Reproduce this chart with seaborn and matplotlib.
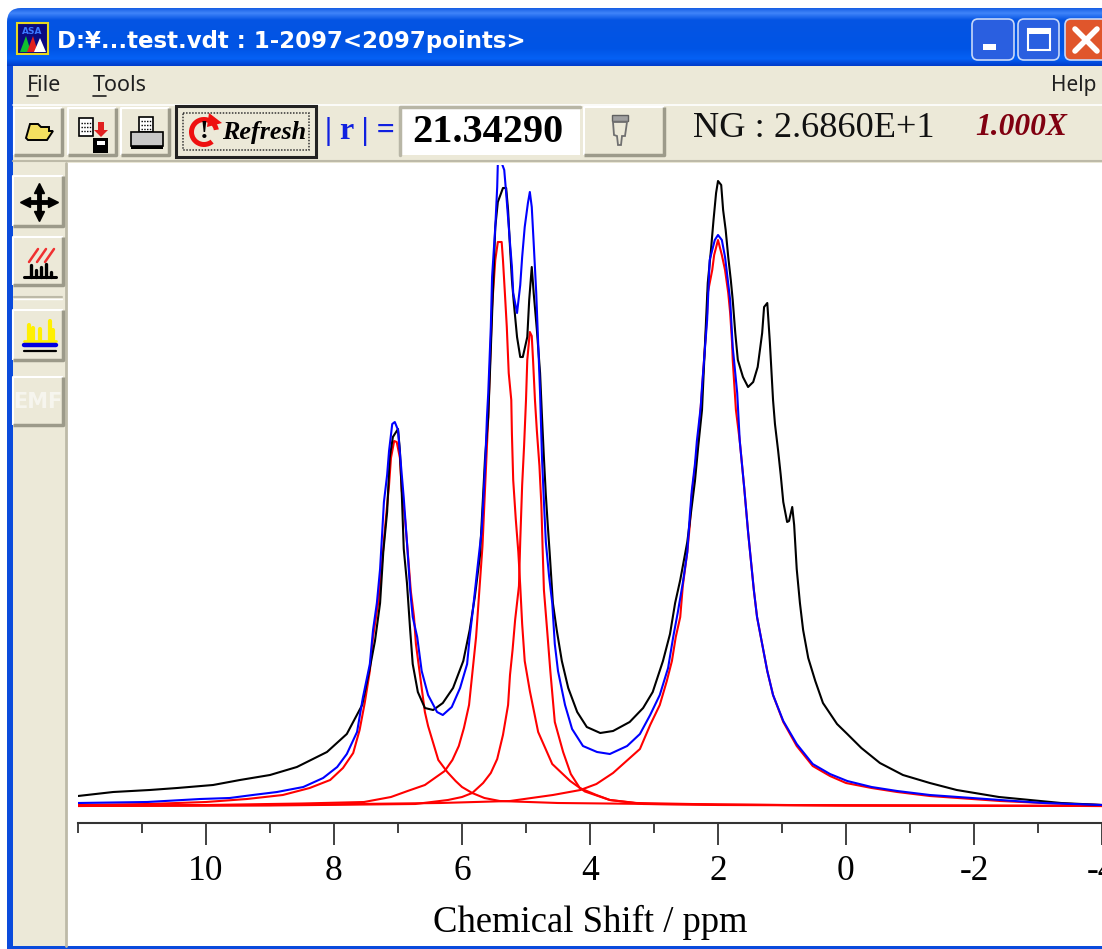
"""Peak fitting window: NMR spectrum with fitted peaks, seaborn + matplotlib"""
import matplotlib
matplotlib.use("Agg")
import matplotlib.pyplot as plt
import numpy as np
import seaborn as sns
from matplotlib.patches import FancyBboxPatch, Polygon, Rectangle, Wedge
from matplotlib.ticker import MultipleLocator

# measured spectrum
black_ppm = [12.00, 11.45, 10.88, 10.45, 9.89, 9.47, 9.00, 8.58, 8.11, 7.80, 7.56, 7.44, 7.36, 7.28, 7.23, 7.17,
             7.13, 7.08, 7.00, 6.97, 6.94, 6.91, 6.86, 6.81, 6.77, 6.69, 6.58, 6.45, 6.30, 6.14, 5.98, 5.88,
             5.80, 5.72, 5.67, 5.64, 5.59, 5.56, 5.48, 5.44, 5.36, 5.31, 5.28, 5.25, 5.22, 5.19, 5.14, 5.09,
             5.05, 4.98, 4.95, 4.91, 4.88, 4.83, 4.78, 4.75, 4.72, 4.69, 4.66, 4.63, 4.58, 4.52, 4.44, 4.34,
             4.20, 4.05, 3.84, 3.64, 3.38, 3.17, 3.02, 2.86, 2.75, 2.67, 2.59, 2.48, 2.36, 2.31, 2.25, 2.16,
             2.11, 2.07, 2.03, 2.00, 1.95, 1.92, 1.88, 1.84, 1.80, 1.77, 1.73, 1.69, 1.61, 1.53, 1.45, 1.38,
             1.31, 1.28, 1.23, 1.19, 1.14, 1.11, 1.06, 1.02, 0.98, 0.92, 0.89, 0.84, 0.81, 0.77, 0.72, 0.67,
             0.59, 0.48, 0.36, 0.14, -0.02, -0.24, -0.53, -0.89, -1.31, -1.73, -2.39, -3.36, -4.00]
black_y = [10, 14, 16, 18, 21, 26, 31, 39, 54, 72, 101, 138, 165, 203, 254, 294,
           348, 369, 377, 355, 311, 257, 223, 176, 142, 114, 98, 96, 103, 118, 145, 176,
           209, 250, 311, 348, 389, 439, 579, 604, 618, 618, 596, 559, 526, 503, 469, 449,
           449, 469, 506, 539, 513, 476, 433, 389, 348, 311, 281, 253, 203, 176, 145, 118,
           94, 79, 73, 75, 84, 98, 114, 145, 172, 203, 226, 264, 325, 359, 396, 523,
           556, 586, 613, 625, 621, 596, 576, 549, 526, 506, 473, 446, 429, 419, 424, 439,
           473, 499, 503, 464, 406, 382, 355, 331, 304, 284, 285, 299, 281, 237, 203, 176,
           148, 125, 103, 82, 72, 58, 43, 31, 23, 16, 9, 3, 1]

# total fit
blue_ppm = [12.00, 10.92, 10.09, 9.63, 9.27, 8.89, 8.48, 8.17, 7.95, 7.80, 7.64, 7.55, 7.44, 7.39, 7.33, 7.28,
            7.25, 7.22, 7.17, 7.14, 7.09, 7.05, 7.00, 6.95, 6.91, 6.86, 6.81, 6.77, 6.70, 6.63, 6.53, 6.39,
            6.30, 6.16, 6.03, 5.92, 5.88, 5.83, 5.75, 5.69, 5.64, 5.61, 5.59, 5.55, 5.53, 5.48, 5.45, 5.44,
            5.38, 5.34, 5.31, 5.25, 5.22, 5.20, 5.14, 5.09, 5.06, 5.02, 4.97, 4.94, 4.91, 4.88, 4.84, 4.81,
            4.78, 4.75, 4.72, 4.69, 4.64, 4.59, 4.55, 4.50, 4.39, 4.28, 4.11, 3.89, 3.69, 3.42, 3.22, 3.06,
            2.91, 2.78, 2.70, 2.63, 2.55, 2.48, 2.44, 2.41, 2.36, 2.33, 2.27, 2.25, 2.17, 2.13, 2.05, 2.00,
            1.94, 1.89, 1.81, 1.77, 1.70, 1.66, 1.59, 1.53, 1.44, 1.39, 1.31, 1.23, 1.14, 0.98, 0.77, 0.52,
            0.25, -0.02, -0.40, -0.80, -1.31, -2.41, -3.09, -4.00]
blue_y = [3, 4, 7, 8, 11, 14, 19, 28, 39, 52, 74, 108, 142, 176, 203, 237,
          270, 304, 331, 355, 382, 384, 376, 338, 308, 264, 216, 189, 169, 135, 111, 94,
          91, 99, 118, 142, 169, 196, 243, 277, 338, 389, 413, 479, 529, 579, 619, 643,
          643, 636, 613, 563, 539, 513, 493, 521, 549, 579, 603, 614, 599, 563, 513, 463,
          413, 348, 304, 264, 230, 203, 162, 135, 101, 77, 60, 54, 52, 60, 72, 91,
          111, 138, 169, 193, 223, 254, 291, 315, 342, 365, 399, 419, 486, 546, 566, 571,
          566, 549, 506, 459, 413, 365, 318, 274, 216, 189, 162, 135, 111, 85, 62, 42,
          32, 25, 19, 15, 11, 6, 3, 1]

# fitted components
red1_ppm = [12.00, 10.90, 10.00, 9.36, 8.80, 8.38, 8.06, 7.86, 7.70, 7.60, 7.52, 7.44, 7.39, 7.31, 7.25, 7.19,
            7.14, 7.11, 7.06, 7.02, 6.97, 6.94, 6.89, 6.83, 6.80, 6.75, 6.72, 6.63, 6.58, 6.53, 6.37, 6.23,
            6.10, 6.00, 5.84, 5.65, 5.41, 4.50, 3.00, 1.00, -1.00, -4.00]
red1_y = [1, 2, 4, 7, 11, 18, 26, 38, 53, 76, 103, 135, 169, 203, 243, 287,
          321, 348, 365, 364, 348, 315, 287, 240, 215, 189, 162, 118, 94, 80, 46, 34,
          25, 19, 13, 8, 5, 3, 2, 1, 0.5, 0]

red2_ppm = [12.00, 10.00, 9.00, 8.50, 7.53, 7.11, 6.85, 6.58, 6.27, 6.15, 6.05, 5.97, 5.89, 5.78, 5.68, 5.59,
            5.56, 5.53, 5.48, 5.44, 5.38, 5.36, 5.33, 5.30, 5.27, 5.23, 5.22, 5.20, 5.16, 5.12, 5.09, 5.06,
            5.02, 4.94, 4.81, 4.59, 4.31, 4.08, 3.69, 3.27, 2.00, 0.00, -4.00]
red2_y = [0.5, 1, 2, 2.5, 4, 9, 15, 21, 35, 46, 60, 78, 101, 169, 260, 389,
          446, 499, 546, 564, 564, 546, 513, 479, 433, 406, 372, 326, 287, 254, 220, 182,
          145, 115, 74, 42, 25, 14.5, 6, 3, 1.5, 0.5, 0]

red3_ppm = [12.00, 9.00, 6.73, 6.22, 6.00, 5.84, 5.67, 5.55, 5.45, 5.36, 5.28, 5.25, 5.21, 5.17, 5.11, 5.09,
            5.06, 5.03, 5.00, 4.98, 4.94, 4.91, 4.89, 4.86, 4.83, 4.79, 4.76, 4.74, 4.72, 4.67, 4.62, 4.55,
            4.42, 4.30, 4.16, 3.90, 3.69, 3.17, 2.00, 0.00, -4.00]
red3_y = [0, 0.5, 2, 6, 9, 13, 23, 33, 47, 71, 101, 131, 156, 186, 220, 265,
          321, 360, 406, 446, 474, 470, 446, 406, 375, 340, 301, 257, 216, 176, 135, 84,
          54, 32, 18, 11, 6, 2, 1, 0.5, 0]

red4_ppm = [12.00, 9.00, 6.34, 5.25, 4.58, 4.15, 3.90, 3.64, 3.22, 3.06, 2.91, 2.80, 2.72, 2.66, 2.59, 2.55,
            2.48, 2.44, 2.41, 2.36, 2.31, 2.25, 2.20, 2.17, 2.16, 2.09, 2.06, 2.00, 1.94, 1.89, 1.84, 1.81,
            1.78, 1.77, 1.72, 1.66, 1.59, 1.53, 1.44, 1.39, 1.31, 1.23, 1.14, 0.98, 0.77, 0.52, 0.25, 0.00,
            -0.40, -0.80, -1.31, -2.41, -3.09, -4.00]
red4_y = [0, 1, 3, 5, 11, 16, 22, 33, 57, 81, 101, 125, 145, 169, 189, 220,
          254, 281, 311, 338, 365, 416, 463, 493, 513, 536, 551, 566, 551, 536, 513, 493,
          463, 446, 396, 365, 318, 274, 216, 189, 162, 135, 111, 84, 60, 40, 30, 23,
          18, 14, 10, 5, 3, 1]

tick_values = [10, 8, 6, 4, 2, 0, -2, -4]
tick_labels = ["10", "8", "6", "4", "2", "0", "-2", "-4"]

BEIGE = "#ECE9D8"
SHADOW = "#9C9A8A"
SERIF = "Liberation Serif"


def button(ax, x0, y0, x1, y1, lw=1.5):
    ax.add_patch(Rectangle((x0, y0), x1 - x0, y1 - y0, fc=BEIGE, ec="none", zorder=2))
    ax.plot([x0, x0, x1], [y1, y0, y0], color="white", lw=lw, zorder=3, solid_capstyle="butt")
    ax.plot([x0, x1, x1], [y1, y1, y0], color=SHADOW, lw=lw + 1, zorder=3, solid_capstyle="butt")


def title_gradient(ax):
    stops = np.array([[0.00, 0.10, 0.38, 0.90], [0.08, 0.25, 0.52, 0.98], [0.20, 0.02, 0.33, 0.89],
                      [0.70, 0.00, 0.33, 0.90], [0.88, 0.02, 0.38, 0.96], [1.00, 0.00, 0.24, 0.80]])
    t = np.linspace(0, 1, 60)
    rgb = np.stack([np.interp(t, stops[:, 0], stops[:, i]) for i in (1, 2, 3)], axis=1)[:, None, :]
    im = ax.imshow(rgb, extent=(7, 1102, 66, 8), aspect="auto", zorder=1)
    clip = FancyBboxPatch((7, 8), 1200, 100, boxstyle="round,pad=0,rounding_size=14",
                          transform=ax.transData, fc="none", ec="none")
    ax.add_patch(clip)
    im.set_clip_path(clip)


def draw_window(ax):
    ax.set_xlim(0, 1102)
    ax.set_ylim(949, 0)
    ax.axis("off")
    ax.add_patch(Rectangle((7, 60), 1095, 889, fc="#0A4BDC", ec="none", zorder=0))
    title_gradient(ax)
    ax.set_xlim(0, 1102)
    ax.set_ylim(949, 0)
    ax.add_patch(Rectangle((13, 66), 1089, 880, fc=BEIGE, ec="none", zorder=1))
    ax.add_patch(Rectangle((67, 163), 1035, 783, fc="white", ec="none", zorder=1))
    ax.plot([65.5, 65.5], [163, 946], color="#BDBAA8", lw=2, zorder=2)
    ax.plot([13, 1102], [160.5, 160.5], color="#BDBAA8", lw=1.5, zorder=2)
    ax.plot([13, 1102], [105, 105], color="white", lw=1.2, zorder=2)

    # title bar
    ax.add_patch(Rectangle((17, 23), 31, 31, fc="#0A0A80", ec="#E8D820", lw=1.5, zorder=3))
    ax.text(32.5, 31, "ASA", color="#3C78FF", fontsize=6.5, weight="bold", family="DejaVu Sans",
            ha="center", va="center", zorder=4)
    ax.add_patch(Polygon([(20, 52), (26, 36), (31, 52)], fc="#10C030", ec="none", zorder=4))
    ax.add_patch(Polygon([(27, 52), (33, 36), (38, 52)], fc="#E02020", ec="none", zorder=4))
    ax.add_patch(Polygon([(34, 52), (40, 38), (46, 52)], fc="white", ec="none", zorder=4))
    ax.text(57, 41, "D:¥...test.vdt : 1-2097<2097points>", color="white", fontsize=16.5, weight="bold",
            family="DejaVu Sans", va="center", zorder=4)

    # caption buttons
    for x0, x1, fc in [(972, 1014, "#2A5FE0"), (1018, 1059, "#2A5FE0"), (1065, 1120, "#E0562C")]:
        ax.add_patch(FancyBboxPatch((x0 + 3, 22), x1 - x0 - 6, 35, boxstyle="round,pad=3,rounding_size=6",
                                    fc=fc, ec="#C8D8F8", lw=1.2, zorder=3))
    ax.add_patch(Rectangle((983, 44), 13, 6, fc="white", ec="none", zorder=4))
    ax.add_patch(Rectangle((1028, 29), 22, 21, fc="none", ec="white", lw=1.5, zorder=4))
    ax.add_patch(Rectangle((1028, 29), 22, 5, fc="white", ec="none", zorder=4))
    ax.plot([1075, 1097], [29, 51], color="white", lw=4, zorder=4)
    ax.plot([1075, 1097], [51, 29], color="white", lw=4, zorder=4)

    # menu
    ax.text(27, 85, "File", fontsize=15.5, family="Noto Sans", color="#202020", va="center", zorder=3)
    ax.text(93, 85, "Tools", fontsize=15.5, family="Noto Sans", color="#202020", va="center", zorder=3)
    ax.text(1051, 85, "Help", fontsize=15, family="Noto Sans", color="#202020", va="center", zorder=3)
    ax.plot([27, 38], [96, 96], color="#202020", lw=1.2, zorder=3)
    ax.plot([93, 106], [96, 96], color="#202020", lw=1.2, zorder=3)

    # toolbar
    button(ax, 14, 108, 62, 155)
    ax.add_patch(Polygon([(26, 138), (30, 124), (38, 124), (41, 127), (49, 127), (49, 131), (53, 131), (47, 140),
                          (28, 140)], fc="#F4E060", ec="black", lw=1.4, zorder=4))
    button(ax, 68, 108, 116, 155)
    ax.add_patch(Rectangle((79, 118), 14, 18, fc="white", ec="black", lw=1.2, zorder=4))
    for yy in (123, 127, 131):
        ax.plot([81, 91], [yy, yy], color="black", lw=1, ls=(0, (1, 1)), zorder=5)
    ax.add_patch(Rectangle((93, 138), 15, 15, fc="black", ec="none", zorder=4))
    ax.add_patch(Rectangle((97, 141), 8, 4, fc="white", ec="none", zorder=5))
    ax.add_patch(Polygon([(98, 122), (104, 122), (104, 130), (108, 130), (101, 137), (94, 130), (98, 130)],
                         fc="#E02020", ec="none", zorder=5))
    button(ax, 121, 108, 169, 155)
    ax.add_patch(Rectangle((139, 117), 14, 15, fc="white", ec="black", lw=1.2, zorder=4))
    for yy in (121, 125, 129):
        ax.plot([141, 151], [yy, yy], color="black", lw=1, ls=(0, (1, 1)), zorder=5)
    ax.add_patch(Rectangle((131, 132), 32, 14, fc="#C8C8C8", ec="black", lw=1.2, zorder=4))
    ax.add_patch(Rectangle((131, 146), 32, 3, fc="black", ec="none", zorder=4))

    # refresh button
    ax.add_patch(Rectangle((176, 106), 140, 51, fc=BEIGE, ec="#222222", lw=2.2, zorder=3))
    ax.add_patch(Rectangle((183, 113), 126, 37, fc="none", ec="#333333", lw=1.1, ls=(0, (1, 1)), zorder=4))
    ax.add_patch(Wedge((204, 132), 15, 50, 350, width=5, fc="#EE1010", ec="none", zorder=4))
    ax.add_patch(Polygon([(209, 113), (222, 123), (207, 127)], fc="#EE1010", ec="none", zorder=4))
    ax.text(204, 131, "!", fontsize=19, weight="bold", family=SERIF, color="black", ha="center", va="center", zorder=5)
    ax.text(222, 132, "Refresh", fontsize=18.8, weight="bold", style="italic", family=SERIF, color="black",
            va="center", zorder=5)

    ax.text(360, 131, "| r | =", fontsize=23, weight="bold", family=SERIF, color="#1020E0",
            ha="center", va="center", zorder=3)
    ax.add_patch(Rectangle((400, 107), 180, 48, fc="white", ec="none", zorder=3))
    ax.plot([400, 400, 580], [155, 107, 107], color="#B8B6A6", lw=2.5, zorder=4)
    ax.text(488, 132, "21.34290", fontsize=29, weight="bold", family=SERIF, color="black",
            ha="center", va="center", zorder=5)

    button(ax, 584, 107, 664, 155)
    ax.add_patch(Rectangle((612, 115), 16, 6, fc="#A0A0A0", ec="#606060", lw=1, zorder=4))
    ax.add_patch(Polygon([(613, 122), (627, 122), (625, 136), (622, 136), (621, 145), (618, 145), (617, 136), (614, 135)],
                         fc=BEIGE, ec="#707070", lw=1.3, zorder=4))

    ax.text(693, 128, "NG : 2.6860E+1", fontsize=26.2, family=SERIF, color="#111111", va="center", zorder=3)
    ax.text(975, 127, "1.000X", fontsize=22.7, weight="bold", style="italic", family=SERIF, color="#800010",
            va="center", zorder=3)

    # left tool strip
    button(ax, 13, 176, 63, 226)
    ax.plot([39, 39], [190, 214], color="black", lw=3.5, zorder=4)
    ax.plot([27, 51], [202, 202], color="black", lw=3.5, zorder=4)
    for mx, my, mk in [(39, 188, "^"), (39, 216, "v"), (25, 202, "<"), (53, 202, ">")]:
        ax.plot([mx], [my], marker=mk, ms=7, color="black", zorder=4)

    button(ax, 13, 237, 63, 285)
    for x0 in (29, 37, 45):
        ax.plot([x0, x0 + 9], [262, 249], color="#F03030", lw=1.8, zorder=4)
    ax.plot([24, 56], [277, 277], color="black", lw=2.2, zorder=4)
    for x0, top in [(31, 265), (36, 270), (41, 267), (46, 264), (51, 272)]:
        ax.plot([x0, x0], [top, 277], color="black", lw=2.4, zorder=4)

    ax.plot([14, 62], [297, 297], color="#BDBAA8", lw=1.5, zorder=2)
    ax.plot([14, 62], [298.5, 298.5], color="white", lw=1, zorder=2)

    button(ax, 13, 310, 63, 360)
    for x0, top in [(29, 325), (33, 328), (40, 329), (50, 321), (53, 330)]:
        ax.plot([x0, x0], [top, 340], color="#FFF000", lw=3, zorder=4)
    ax.plot([24, 56], [341, 341], color="#FFF000", lw=2, zorder=4)
    ax.plot([24, 56], [344.5, 344.5], color="#0000E0", lw=3.2, zorder=4)
    ax.plot([24, 56], [351, 351], color="black", lw=1.6, zorder=4)

    button(ax, 13, 377, 63, 425)
    ax.text(38, 402, "EMF", fontsize=15, weight="bold", family="DejaVu Sans", color="#F6F5EE",
            ha="center", va="center", zorder=4)


def main():
    sns.set_theme(style="white")
    plt.rcParams["font.family"] = [SERIF, "DejaVu Serif"]

    fig = plt.figure(figsize=(11.02, 9.49), dpi=100, facecolor="white")
    bg = fig.add_axes([0, 0, 1, 1], zorder=0)
    draw_window(bg)

    # plot box 78..1102 by 165..823 in window pixels
    ax = fig.add_axes([78 / 1102, 1 - 823 / 949, (1102 - 78) / 1102, (823 - 165) / 949], zorder=1)
    ax.patch.set_alpha(0)

    curves = [(red1_ppm, red1_y, "#FF0000"), (red2_ppm, red2_y, "#FF0000"),
              (red3_ppm, red3_y, "#FF0000"), (red4_ppm, red4_y, "#FF0000"),
              (black_ppm, black_y, "black"), (blue_ppm, blue_y, "#0000FF")]
    for xs, ys, col in curves:
        sns.lineplot(x=xs, y=ys, color=col, lw=1.5, sort=False, estimator=None, ax=ax)

    ax.set_xlim(12, -4)
    ax.set_ylim(-17, 641)
    sns.despine(ax=ax, left=True, top=True, right=True)
    ax.spines["bottom"].set_color("#333333")
    ax.spines["bottom"].set_linewidth(1.5)
    ax.set_yticks([])
    ax.xaxis.set_minor_locator(MultipleLocator(1))
    ax.set_xticks(tick_values)
    ax.set_xticklabels(tick_labels)
    ax.tick_params(axis="x", which="major", bottom=True, length=16, width=1.3, color="#333333",
                   labelsize=25.5, pad=7, labelcolor="black")
    ax.tick_params(axis="x", which="minor", bottom=True, length=7.5, width=1.3, color="#333333")
    ax.set_xlabel("Chemical Shift / ppm", fontsize=26.4, color="black")
    ax.xaxis.set_label_coords((590 - 78) / (1102 - 78), -(922 - 823) / (823 - 165), transform=ax.transAxes)
    ax.xaxis.label.set_va("center")
    ax.set_ylabel("")

    fig.savefig("out.png", dpi=100)


if __name__ == '__main__':
    main()
